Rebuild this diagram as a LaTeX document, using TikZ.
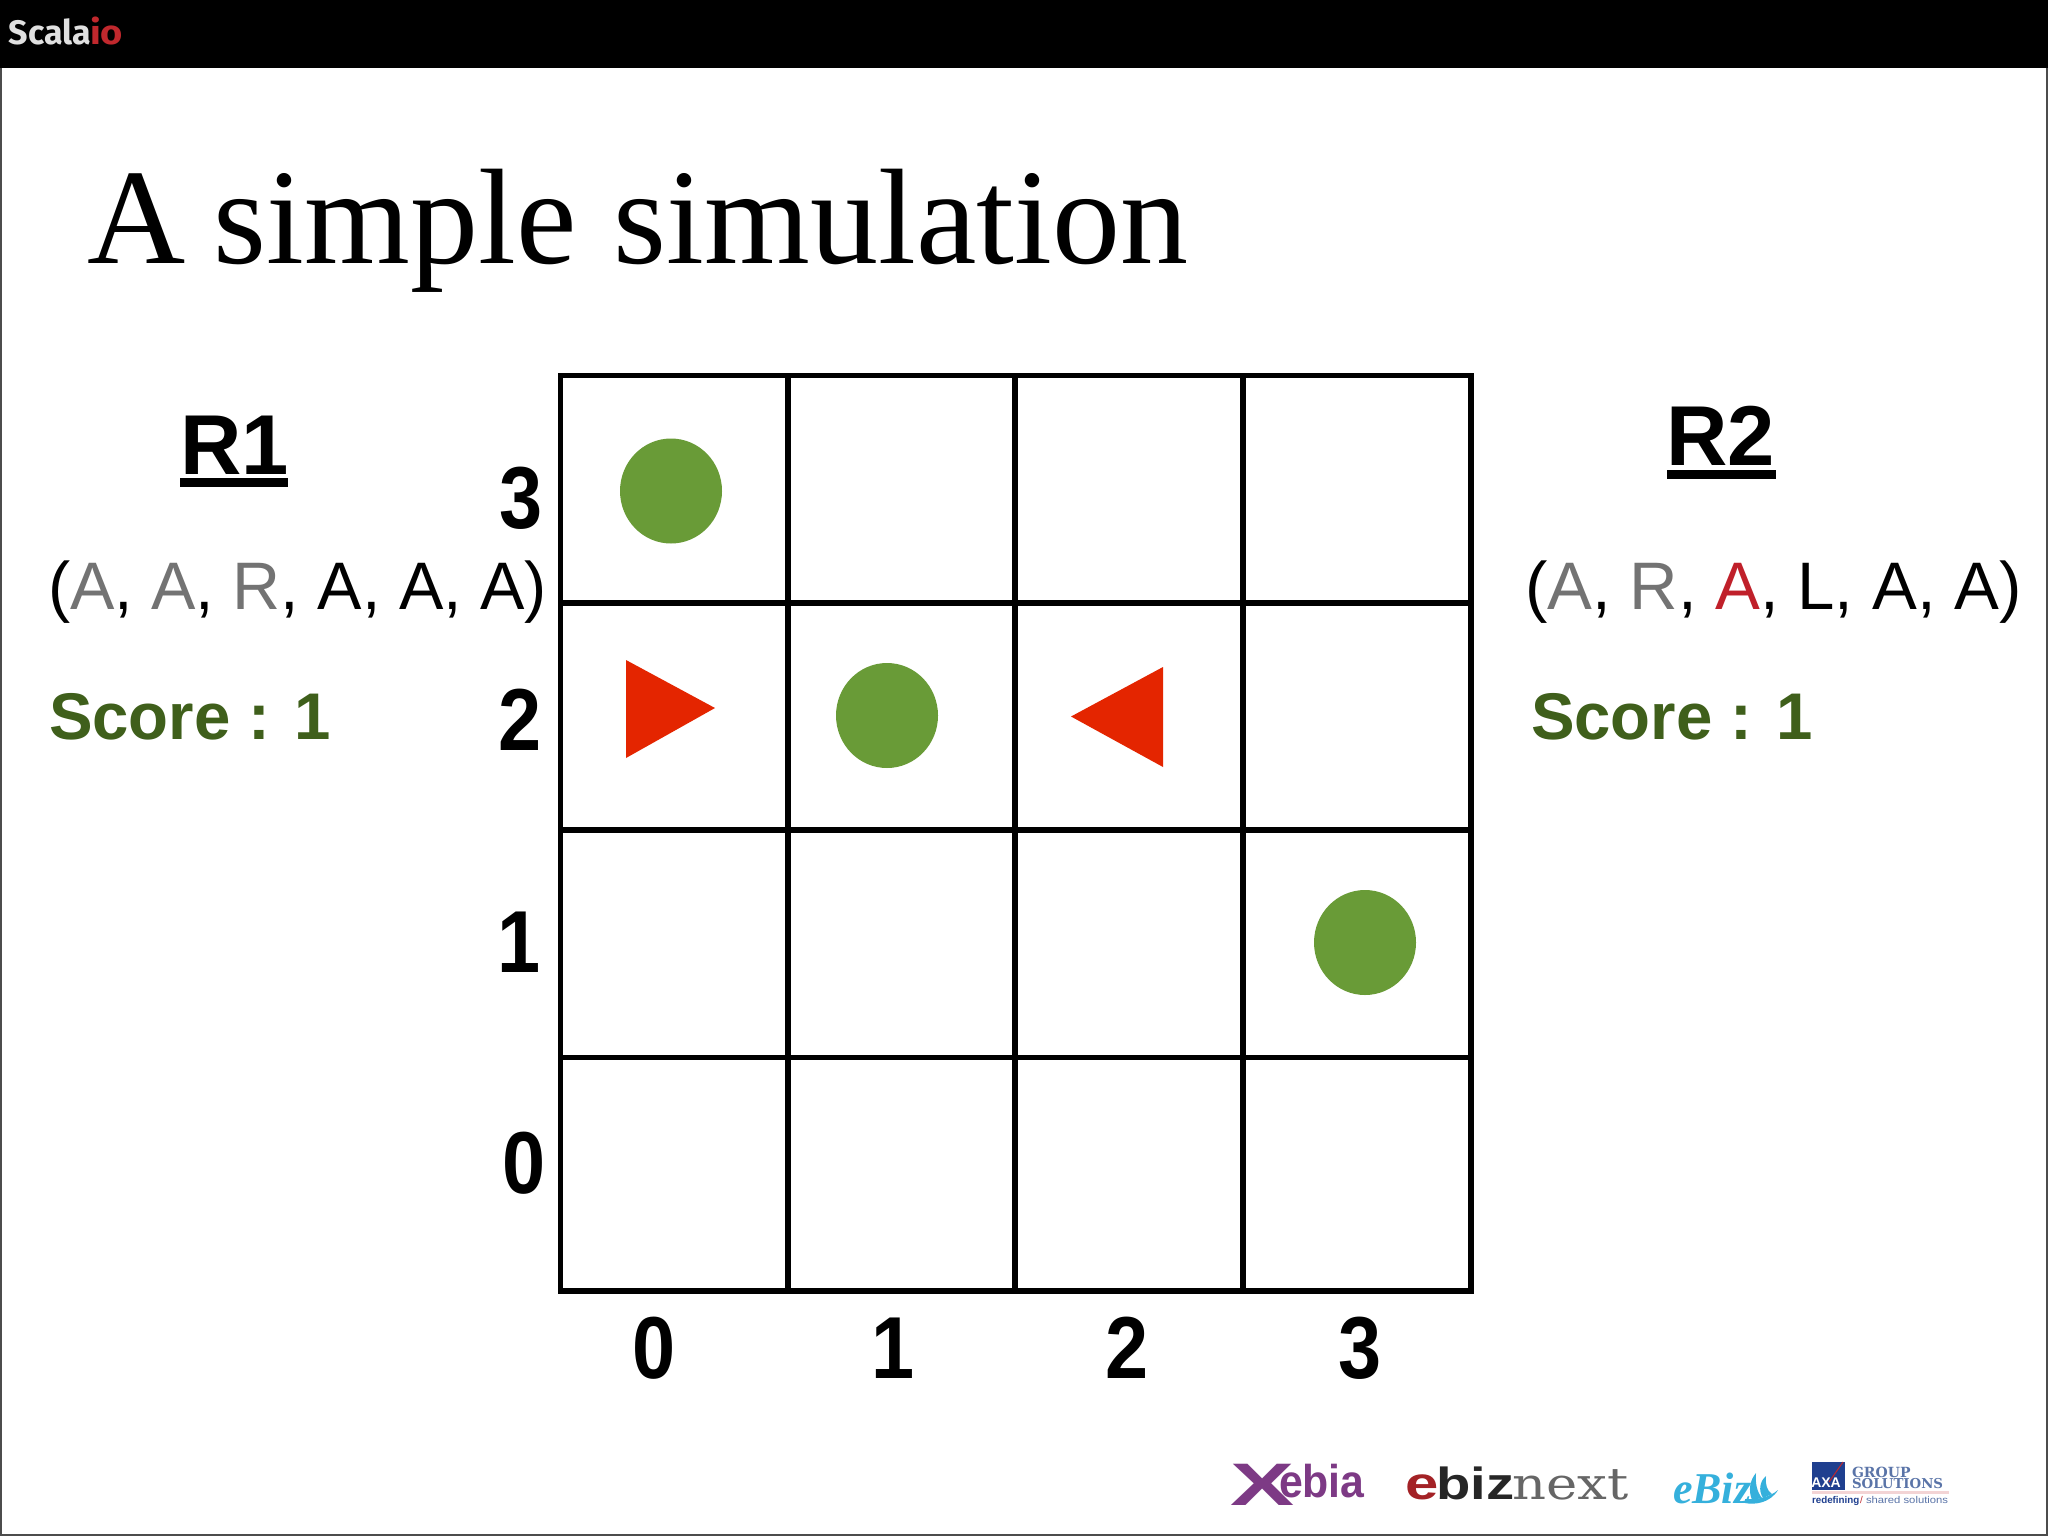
\documentclass[tikz,border=0pt]{standalone}
\usepackage{fontspec}
\setmainfont{Liberation Sans}
\newfontfamily\titlefont{Liberation Serif}
\newfontfamily\slabfont{DejaVu Serif}
\newfontfamily\logofont{Fira Sans}
\definecolor{cgreen}{HTML}{699B37}
\definecolor{cred}{HTML}{E42500}
\definecolor{sgreen}{HTML}{3F5F1B}
\definecolor{tgray}{HTML}{737373}
\definecolor{tred}{HTML}{C0202A}
\definecolor{xpurple}{HTML}{7D3A85}
\definecolor{ecyan}{HTML}{35B0DC}
\definecolor{axablue}{HTML}{1F3F8F}
\definecolor{axatext}{HTML}{5A74A8}
\definecolor{iored}{HTML}{C0282D}
\newcommand{\fs}[1]{\fontsize{#1}{#1}\selectfont}
\tikzset{
  txt/.style={inner sep=0pt,outer sep=0pt,anchor=base},
  txtw/.style={inner sep=0pt,outer sep=0pt,anchor=base west},
  digit/.style={txt,font=\fs{44}\bfseries,xscale=0.88,transform shape},
  tuple/.style={txtw,font=\fs{33.6}},
  score/.style={txtw,font=\fs{33}\bfseries,text=sgreen,xscale=0.99,transform shape},
  robot/.style={txtw,font=\fs{42.5}\bfseries},
  token/.style={fill=cgreen,draw=none},
  agent/.style={fill=cred,draw=none},
  gridline/.style={line width=2.75pt,line cap=rect,black},
}
\begin{document}
\begin{tikzpicture}[x=0.5pt,y=-0.5pt]
\useasboundingbox (0,0) rectangle (2048,1536);
\fill[white] (0,0) rectangle (2048,1536);
% frame and top bar
\draw[line width=0.9pt,color=black!70] (0.8,60) -- (0.8,1535) -- (2047.2,1535) -- (2047.2,60);
\fill[black] (0,0) rectangle (2048,68);
\node[txtw,font=\logofont\fs{17}\bfseries,text=black!12] (scala) at (9,45) {Scala};
\node[txtw,font=\logofont\fs{17}\bfseries,text=iored,xscale=1.12,transform shape] (io) at (90,45) {io};
% title
\node[txtw,font=\titlefont\fs{68}] (title) at (87,263) {A\hspace{-2.6pt} simple\hspace{1.6pt} simulation};
% grid
\draw[gridline] (560.5,375.5) rectangle (1471,1291);
\foreach \gx in {788,1015,1243} \draw[gridline,line cap=butt] (\gx,375.5) -- (\gx,1291);
\foreach \gy in {603,830,1057.5} \draw[gridline,line cap=butt] (560.5,\gy) -- (1471,\gy);
% tokens
\fill[token] (671,491) ellipse [x radius=51,y radius=52.5];
\fill[token] (887,715.5) ellipse [x radius=51,y radius=52.5];
\fill[token] (1365,942.5) ellipse [x radius=51,y radius=52.5];
% agents
\fill[agent] (626,660) -- (715,708) -- (626,758) -- cycle;
\fill[agent] (1163,667) -- (1071,716.5) -- (1163,767) -- cycle;
% axis digits
\node[digit] (r3) at (521.5,528) {3};
\node[digit] (r2) at (520.5,750) {2};
\node[digit] (r1) at (519,972) {1};
\node[digit] (r0) at (524.5,1193) {0};
\node[digit] (c0) at (654.5,1378) {0};
\node[digit] (c1) at (893.5,1378) {1};
\node[digit] (c2) at (1127,1378) {2};
\node[digit] (c3) at (1360.5,1378) {3};
% R1
\node[robot] (rone) at (180,474) {R1};
\fill[black] (180,478) rectangle (288,487);
\node[tuple,xscale=0.99,transform shape] (tone) at (48,609) {(\textcolor{tgray}{A}, \textcolor{tgray}{A}, \textcolor{tgray}{R}, A, A, A)};
\node[score] (sone) at (49,739) {Score : 1};
% R2
\node[robot] (rtwo) at (1666,465) {R2};
\fill[black] (1667,470) rectangle (1776,479);
\node[tuple] (ttwo) at (1525,609) {(\textcolor{tgray}{A}, \textcolor{tgray}{R}, \textcolor{tred}{A}, L, A, A)};
\node[score] (stwo) at (1531,739) {Score : 1};
% logos
\node[txtw,font=\fs{30}\bfseries,text=xpurple,xscale=1.6,transform shape] (xx) at (1230,1505) {X};
\node[txtw,font=\fs{23}\bfseries,text=xpurple,xscale=0.93,transform shape] (xebia) at (1279,1497) {ebia};
\node[txtw,font=\fs{23}\bfseries,text=iored!85!black,xscale=1.3,transform shape] (ee) at (1405,1499) {e};
\node[txtw,font=\fs{22.5}\bfseries,text=black!85,xscale=1.25,transform shape] (ebiz) at (1436,1499) {biz};
\node[txtw,font=\slabfont\fs{22},text=black!60,xscale=1.2,transform shape] (enext) at (1512,1499) {next};
\node[txtw,font=\titlefont\fs{22}\itshape\bfseries,text=ecyan] (ebz) at (1673,1503) {eBiz};
\fill[ecyan] (1752,1500) .. controls (1748,1490) and (1750,1480) .. (1756,1473) .. controls (1755,1483) and (1757,1492) .. (1762,1498) -- cycle;
\fill[ecyan] (1763,1498) .. controls (1758,1490) and (1760,1481) .. (1766,1476) .. controls (1765,1484) and (1767,1491) .. (1772,1494) -- cycle;
\fill[ecyan] (1745,1503) .. controls (1755,1505) and (1770,1503) .. (1778,1490) .. controls (1770,1497) and (1757,1500) .. (1745,1499) -- cycle;
\fill[axablue] (1812,1462) rectangle (1845,1490);
\draw[line width=0.5pt,iored] (1843,1462) -- (1829,1482);
\node[txt,font=\fs{7}\bfseries,text=white] (axa) at (1826,1487) {AXA};
\node[txtw,font=\slabfont\fs{7}\bfseries,text=axatext] (group) at (1852,1477) {GROUP};
\node[txtw,font=\slabfont\fs{6.8}\bfseries,text=axatext,xscale=0.98,transform shape] (sol) at (1852,1488) {SOLUTIONS};
\fill[iored!20] (1812,1491) rectangle (1949,1494);
\node[txtw,font=\fs{4.9}\bfseries,text=axablue] (redef) at (1812,1503) {redefining};
\node[txtw,font=\fs{4.9},text=iored] (sl) at (1860,1503) {/};
\node[txtw,font=\fs{4.9},text=axatext,xscale=1.15,transform shape] (shared) at (1866,1503) {shared solutions};
\end{tikzpicture}
\end{document}
